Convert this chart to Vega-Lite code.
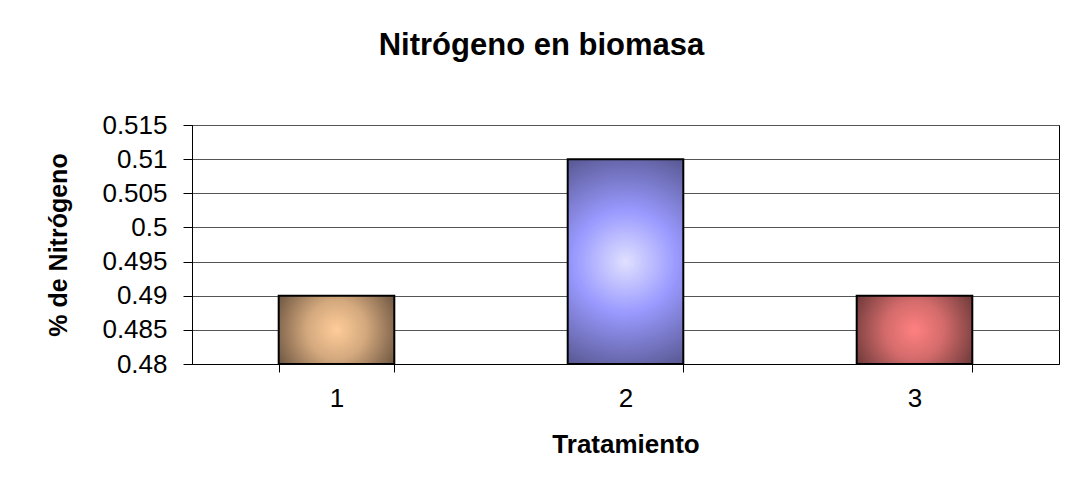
{
  "$schema": "https://vega.github.io/schema/vega-lite/v6.json",
  "autosize": {"type": "none"},
  "width": 867,
  "height": 239,
  "padding": {"left": 192, "top": 125, "right": 13, "bottom": 119},
  "background": "white",
  "config": {
    "font": "Liberation Sans",
    "view": {"stroke": "#000000", "strokeWidth": 1}
  },
  "title": {
    "text": "Nitrógeno en biomasa",
    "fontSize": 31,
    "fontWeight": "bold",
    "font": "Liberation Sans",
    "color": "#000000",
    "anchor": "middle",
    "dx": -84,
    "offset": 50
  },
  "data": {
    "values": [
      {"Tratamiento": "1", "Nitrogeno": 0.49},
      {"Tratamiento": "2", "Nitrogeno": 0.51},
      {"Tratamiento": "3", "Nitrogeno": 0.49}
    ]
  },
  "encoding": {
    "x": {
      "field": "Tratamiento",
      "type": "ordinal",
      "scale": {"domain": ["1", "2", "3"], "paddingInner": 0.6, "paddingOuter": 0.3},
      "axis": {
        "title": "Tratamiento",
        "titleFont": "Liberation Sans",
        "titleFontSize": 26,
        "titleFontWeight": "bold",
        "titleColor": "#000000",
        "titlePadding": 20,
        "labelFont": "Liberation Sans",
        "labelFontSize": 26,
        "labelColor": "#000000",
        "labelAngle": 0,
        "labelPadding": 13,
        "tickBand": "extent",
        "tickSize": 8,
        "tickColor": "#000000",
        "domainColor": "#000000",
        "grid": false
      }
    },
    "y": {
      "field": "Nitrogeno",
      "type": "quantitative",
      "scale": {"domain": [0.48, 0.515], "zero": false, "nice": false},
      "axis": {
        "title": "% de Nitrógeno",
        "titleFont": "Liberation Sans",
        "titleFontSize": 25,
        "titleFontWeight": "bold",
        "titleColor": "#000000",
        "titlePadding": 30,
        "values": [0.48, 0.485, 0.49, 0.495, 0.5, 0.505, 0.51, 0.515],
        "format": "~g",
        "labelFont": "Liberation Sans",
        "labelFontSize": 26,
        "labelColor": "#000000",
        "labelPadding": 16,
        "tickSize": 9,
        "tickColor": "#000000",
        "domainColor": "#000000",
        "grid": true,
        "gridColor": "#555555",
        "gridWidth": 1
      }
    },
    "y2": {"datum": 0.48}
  },
  "layer": [
    {
      "transform": [{"filter": "datum.Tratamiento == '1'"}],
      "mark": {
        "type": "bar",
        "stroke": "#000000",
        "strokeWidth": 2,
        "color": {
          "gradient": "radial",
          "x1": 0.5, "y1": 0.5, "r1": 0,
          "x2": 0.5, "y2": 0.5, "r2": 0.56,
          "stops": [
            {"offset": 0, "color": "#FFCC99"},
            {"offset": 0.45, "color": "#D4A97E"},
            {"offset": 1, "color": "#735A44"}
          ]
        }
      }
    },
    {
      "transform": [{"filter": "datum.Tratamiento == '2'"}],
      "mark": {
        "type": "bar",
        "stroke": "#000000",
        "strokeWidth": 2,
        "color": {
          "gradient": "radial",
          "x1": 0.5, "y1": 0.5, "r1": 0,
          "x2": 0.5, "y2": 0.5, "r2": 0.56,
          "stops": [
            {"offset": 0, "color": "#E0E0FF"},
            {"offset": 0.45, "color": "#9999FF"},
            {"offset": 1, "color": "#5A5A96"}
          ]
        }
      }
    },
    {
      "transform": [{"filter": "datum.Tratamiento == '3'"}],
      "mark": {
        "type": "bar",
        "stroke": "#000000",
        "strokeWidth": 2,
        "color": {
          "gradient": "radial",
          "x1": 0.5, "y1": 0.5, "r1": 0,
          "x2": 0.5, "y2": 0.5, "r2": 0.56,
          "stops": [
            {"offset": 0, "color": "#FF8080"},
            {"offset": 0.45, "color": "#D46B6B"},
            {"offset": 1, "color": "#733C3C"}
          ]
        }
      }
    }
  ]
}
